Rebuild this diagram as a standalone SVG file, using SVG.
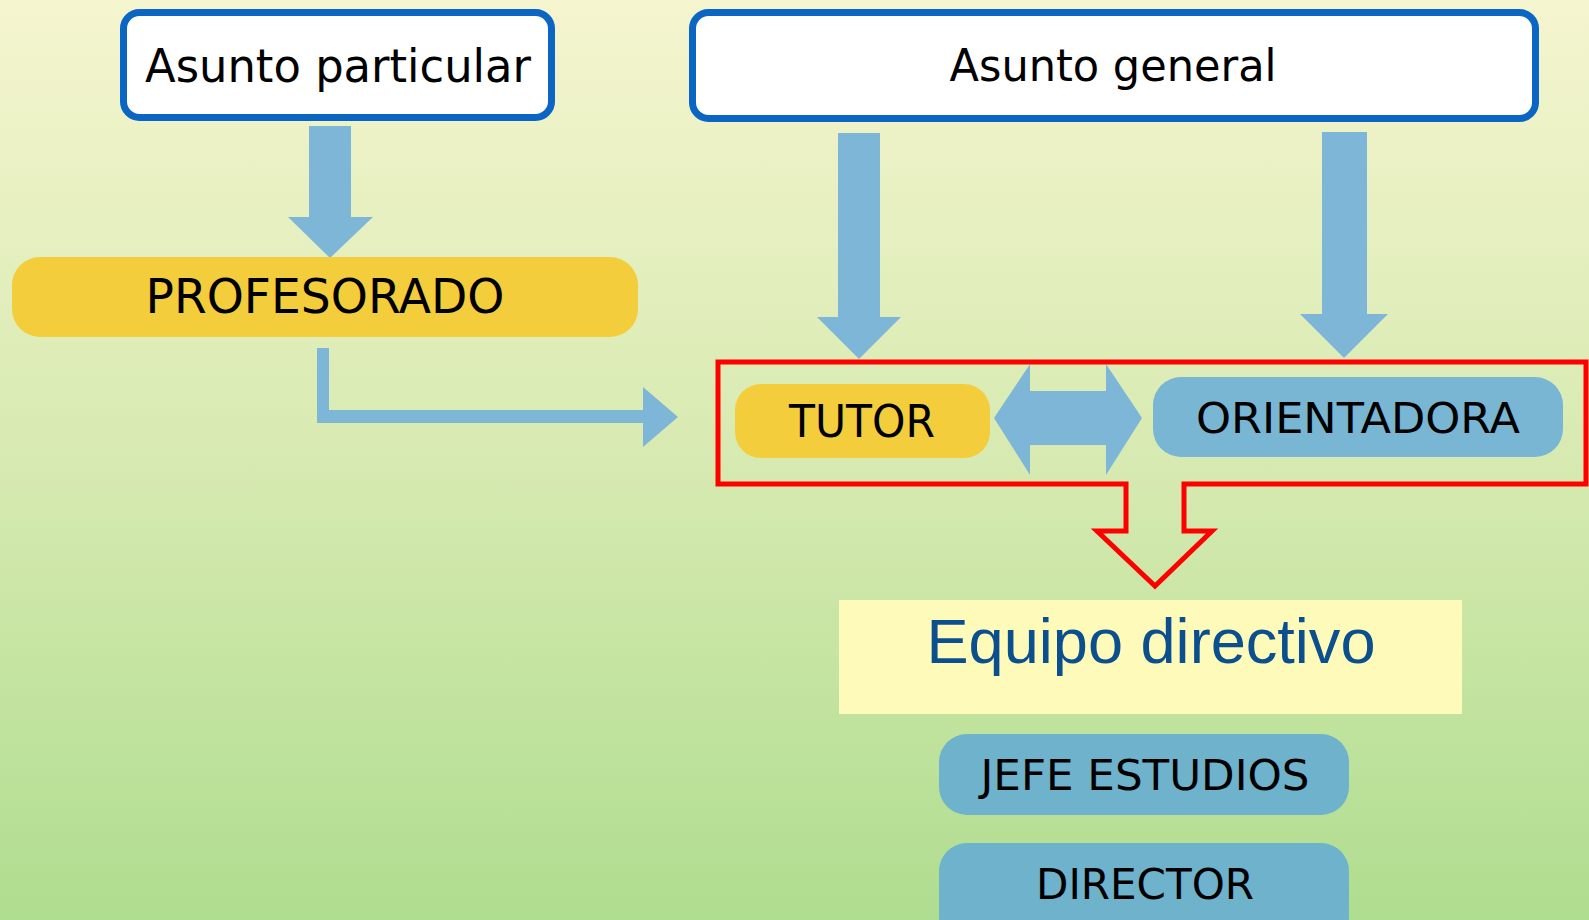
<svg xmlns="http://www.w3.org/2000/svg" width="1589" height="920" viewBox="0 0 1589 920">
<defs>
<linearGradient id="bg" x1="0" y1="0" x2="0" y2="1">
<stop offset="0" stop-color="#F5F5CF"/>
<stop offset="0.5" stop-color="#D7EAB1"/>
<stop offset="1" stop-color="#AFDD8F"/>
</linearGradient>
<style>
.title{fill:#FFFFFF;stroke:#0A66C2;stroke-width:7}
.comic{font-family:"DejaVu Sans","Noto Sans",sans-serif;fill:#000000;text-anchor:middle}
.yellow{fill:#F3CD3B}
.blue{fill:#6EB2CC}
.arrow{fill:#7EB6D7}
</style>
</defs>
<rect x="0" y="0" width="1589" height="920" fill="url(#bg)"/>

<g id="connectors">
<polygon class="arrow" points="309,126 351,126 351,217 373,217 330,258 288,217 309,217"/>
<polygon class="arrow" points="838,133 880,133 880,317 901,317 859,359 817,317 838,317"/>
<polygon class="arrow" points="1322,132 1367,132 1367,314 1388,314 1344,358 1300,314 1322,314"/>
<polygon class="arrow" points="317,348 329,348 329,410 643,410 643,387 678,417 643,447 643,423 317,423"/>
<polygon class="arrow" points="994,418 1030,364 1030,391 1106,391 1106,364 1142,418 1106,475 1106,445 1030,445 1030,475"/>
<path d="M718,362 H1586 V484 H1184 V531 H1212 L1155,586 L1097,531 H1126 V484 H718 Z" fill="none" stroke="#FF0000" stroke-width="5"/>
</g>

<g id="asunto-particular">
<rect class="title" x="123.5" y="12.5" width="428" height="105" rx="16"/>
<text class="comic" x="338" y="82" font-size="46" textLength="386" lengthAdjust="spacingAndGlyphs">Asunto particular</text>
</g>

<g id="asunto-general">
<rect class="title" x="692.5" y="12.5" width="843" height="106" rx="16"/>
<text class="comic" x="1113" y="81" font-size="45" textLength="327" lengthAdjust="spacingAndGlyphs">Asunto general</text>
</g>

<g id="profesorado">
<rect class="yellow" x="12" y="257" width="626" height="80" rx="28"/>
<text class="comic" x="325" y="313" font-size="48" textLength="359" lengthAdjust="spacingAndGlyphs">PROFESORADO</text>
</g>

<g id="tutor">
<rect class="yellow" x="735" y="384" width="255" height="74" rx="26"/>
<text class="comic" x="862" y="437" font-size="44" textLength="146" lengthAdjust="spacingAndGlyphs">TUTOR</text>
</g>

<g id="orientadora">
<rect fill="#79B6D4" x="1153" y="377" width="410" height="80" rx="28"/>
<text class="comic" x="1358" y="433" font-size="43" textLength="324" lengthAdjust="spacingAndGlyphs">ORIENTADORA</text>
</g>

<g id="equipo-directivo">
<rect fill="#FEFBBA" x="839" y="600" width="623" height="114"/>
<text x="1151" y="663" font-family="Liberation Sans, Arial, sans-serif" font-size="63" fill="#0B4F8E" text-anchor="middle" textLength="449" lengthAdjust="spacingAndGlyphs">Equipo directivo</text>
</g>

<g id="jefe-estudios">
<rect class="blue" x="939" y="734" width="410" height="81" rx="28"/>
<text class="comic" x="1145" y="790" font-size="43" textLength="329" lengthAdjust="spacingAndGlyphs">JEFE ESTUDIOS</text>
</g>

<g id="director">
<rect class="blue" x="939" y="843" width="410" height="110" rx="28"/>
<text class="comic" x="1145" y="899" font-size="43" textLength="218" lengthAdjust="spacingAndGlyphs">DIRECTOR</text>
</g>
</svg>
